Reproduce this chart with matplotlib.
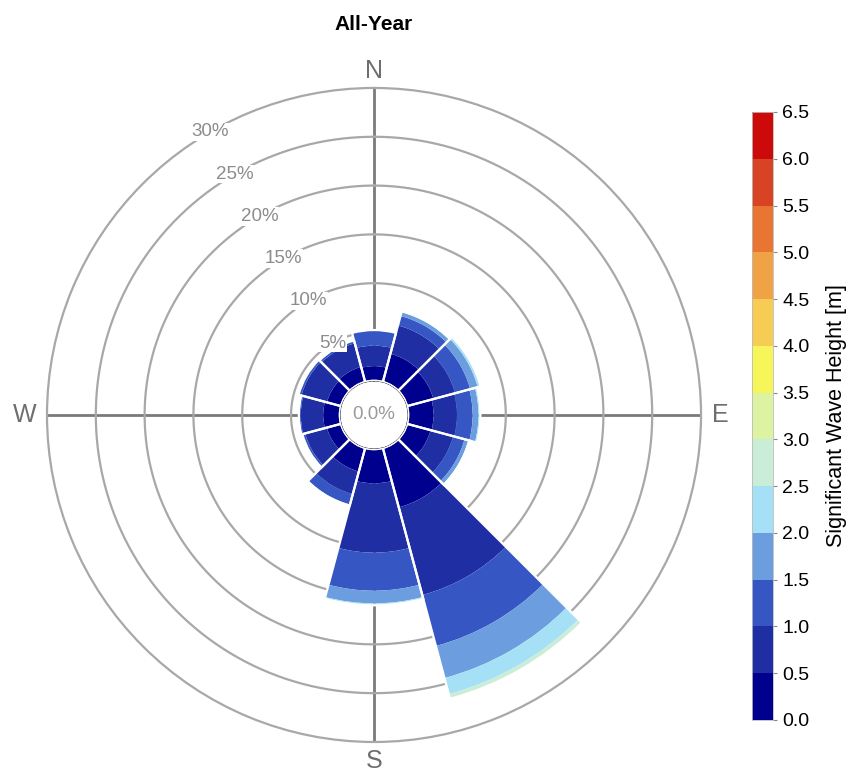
import numpy as np
import matplotlib
matplotlib.use("Agg")
import matplotlib.pyplot as plt
from matplotlib.colors import ListedColormap, BoundaryNorm
from matplotlib.patches import Circle
import matplotlib.cm as cm

plt.rcParams['font.family'] = ['Liberation Sans', 'DejaVu Sans']

# direction sectors (deg, clockwise from N)
directions = [0, 30, 60, 90, 120, 150, 180, 210, 240, 270, 300, 330]
# frequency (%) per wave-height bin, one list per bin
hs_0_05 = [1.5, 3.0, 2.8, 2.6, 2.5, 6.3, 3.5, 2.5, 1.5, 1.7, 1.5, 1.6]
hs_05_10 = [2.1, 3.0, 2.3, 2.4, 2.4, 9.3, 7.1, 2.4, 2.3, 2.3, 2.7, 2.5]
hs_10_15 = [1.6, 1.0, 1.6, 1.6, 1.2, 5.4, 3.9, 1.1, 0.3, 0.2, 0.3, 0.3]
hs_15_20 = [0.0, 0.4, 0.8, 0.6, 0.4, 3.4, 1.3, 0.1, 0.0, 0.0, 0.0, 0.0]
hs_20_25 = [0.0, 0.1, 0.3, 0.2, 0.1, 1.7, 0.2, 0.0, 0.0, 0.0, 0.0, 0.0]
hs_25_30 = [0.0, 0.0, 0.0, 0.0, 0.0, 0.5, 0.0, 0.0, 0.0, 0.0, 0.0, 0.0]
bins = [hs_0_05, hs_05_10, hs_10_15, hs_15_20, hs_20_25, hs_25_30]

ring_levels = [5, 10, 15, 20, 25, 30]
cbar_bounds = [0.0, 0.5, 1.0, 1.5, 2.0, 2.5, 3.0, 3.5, 4.0, 4.5, 5.0, 5.5, 6.0, 6.5]
cbar_colors = ['#00008e', '#1f2fa3', '#3656c4', '#6b9ddf', '#a6e0f6', '#c9edd6',
               '#dcf3a2', '#f6f55a', '#f7cc55', '#f0a344', '#e87632', '#d84324',
               '#cc0a0a']

hole = 3.5  # empty centre, in % units

fig = plt.figure(figsize=(8.61, 7.75), dpi=100)
ax = fig.add_axes([0.0546, 0.0426, 0.7596, 0.8439], projection='polar')
ax.set_theta_zero_location('N')
ax.set_theta_direction(-1)
ax.set_rorigin(-hole)
ax.set_ylim(0, 30)
ax.grid(False)
ax.set_xticks([])
ax.set_yticks([])
ax.spines['polar'].set_color('#a8a8a8')
ax.spines['polar'].set_linewidth(1.6)
if 'inner' in ax.spines:
    ax.spines['inner'].set_visible(False)

# cross lines
ax.plot([0.5, 0.5], [0, 1], transform=ax.transAxes, color='#7a7a7a', lw=2, zorder=1)
ax.plot([0, 1], [0.5, 0.5], transform=ax.transAxes, color='#7a7a7a', lw=2, zorder=1)

# rings
th = np.linspace(0, 2 * np.pi, 400)
for r in ring_levels[:-1]:
    ax.plot(th, np.full_like(th, r), color='#a8a8a8', lw=1.6, zorder=1)

theta = np.deg2rad(directions)
width = np.deg2rad(30)
bottom = np.zeros(len(directions))
for vals, col in zip(bins, cbar_colors):
    vals = np.array(vals)
    ax.bar(theta, vals, width=width, bottom=bottom, color=col, edgecolor='none',
           linewidth=0, zorder=2)
    bottom = bottom + vals
ax.bar(theta, bottom, width=width, bottom=0, fill=False, edgecolor='white',
       linewidth=1.6, zorder=3)

# ring labels
for r in ring_levels:
    ax.text(np.deg2rad(330), r, f'{r}%', ha='center', va='center', fontsize=13.5,
            color='#8c8c8c', zorder=4,
            bbox=dict(facecolor='white', edgecolor='none', pad=0.5))

# centre
ax.add_patch(Circle((0.5, 0.5), 0.5 * hole / (30 + hole), transform=ax.transAxes,
                    facecolor='#e9e9e6', edgecolor='white', lw=1.5, zorder=5))
ax.text(0.5, 0.5, '0.0%', transform=ax.transAxes, ha='center', va='center',
        fontsize=13.5, color='#9a9a9a', zorder=6)

lab = dict(transform=ax.transAxes, ha='center', va='center', fontsize=18, color='#6e6e6e')
ax.text(0.5, 1.026, 'N', **lab)
ax.text(0.5, -0.029, 'S', **lab)
ax.text(-0.034, 0.5, 'W', **lab)
ax.text(1.029, 0.5, 'E', **lab)

fig.text(374 / 861, 1 - 25 / 775, 'All-Year', ha='center', va='center',
         fontsize=15, fontweight='bold')

# colorbar
cmap = ListedColormap(cbar_colors)
norm = BoundaryNorm(cbar_bounds, cmap.N)
sm = cm.ScalarMappable(cmap=cmap, norm=norm)
cax = fig.add_axes([752 / 861, 55 / 775, 21 / 861, 608 / 775])
cb = fig.colorbar(sm, cax=cax, ticks=cbar_bounds)
cb.ax.set_yticklabels([f'{b:.1f}' for b in cbar_bounds])
cb.ax.tick_params(labelsize=14, length=3, color='#888888', pad=3.5)
cb.outline.set_edgecolor('#bbbbbb')
cb.outline.set_linewidth(0.6)
cb.set_label('Significant Wave Height [m]', fontsize=15.5, labelpad=12)

fig.savefig('out.png', dpi=100)
